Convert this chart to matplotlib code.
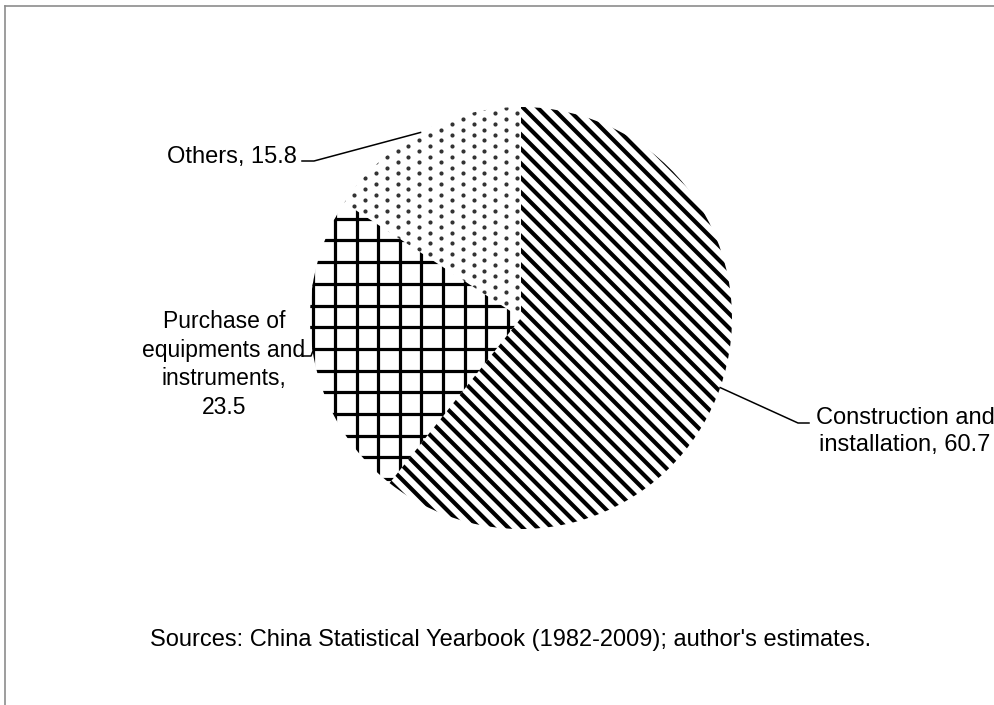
import numpy as np
import matplotlib
matplotlib.use('Agg')
import matplotlib.pyplot as plt
from matplotlib.collections import LineCollection
from matplotlib.lines import Line2D
from matplotlib.transforms import Affine2D

categories = ['Construction and\ninstallation', 'Purchase of\nequipments and\ninstruments,', 'Others']
shares = [60.7, 23.5, 15.8]
source_note = "Sources: China Statistical Yearbook (1982-2009); author's estimates."

W, H = 994, 705
CX, CY, R = 521, 318, 211      # pie centre / radius in pixels

plt.rcParams['font.family'] = ['Liberation Sans', 'DejaVu Sans']

fig = plt.figure(figsize=(W / 100, H / 100), dpi=100)
ax = fig.add_axes([0, 0, 1, 1])
wedges, _ = ax.pie(shares, startangle=90, counterclock=False,
                   colors=['white'] * 3, wedgeprops=dict(linewidth=0))
ax.set_aspect('auto')
ax.set_xlim(-CX / R, (W - CX) / R)
ax.set_ylim((CY - H) / R, CY / R)
ax.axis('off')

# pixel coords with y pointing down
pix = Affine2D().scale(1, -1).translate(0, H)

# hatch for construction: bold downward diagonals
step = 14.5
segs = []
for c in np.arange(343 - step * 80, W + step, step):
    segs.append([(c, 0), (c + H, H)])
lc = LineCollection(segs, colors='black', linewidths=3.0, transform=pix)
lc.set_clip_path(wedges[0])
ax.add_collection(lc)

# hatch for purchase: square grid
segs = []
for x in np.arange(335 - 21.6 * 20, W, 21.6):
    segs.append([(x, 0), (x, H)])
for y in np.arange(305.5 - 21.7 * 20, H, 21.7):
    segs.append([(0, y), (W, y)])
lc = LineCollection(segs, colors='black', linewidths=2.3, transform=pix)
lc.set_clip_path(wedges[1])
ax.add_collection(lc)

# hatch for others: staggered dots
xs, ys = [], []
for i, y in enumerate(np.arange(70, 340, 5.42)):
    off = 0 if i % 2 == 0 else 10.85
    for x in np.arange(300 + off, 540, 21.7):
        xs.append(x)
        ys.append(y)
dots, = ax.plot(xs, ys, 'o', ms=3.0, color='#333333', mec='none', transform=pix)
dots.set_clip_path(wedges[2])

# leader lines from the middle of each slice
elbows = [[(798, 423), (809, 423)],
          [(311, 356), (302, 356)],
          [(314, 161), (302, 161)]]
for w, pts in zip(wedges, elbows):
    th = np.deg2rad((w.theta1 + w.theta2) / 2)
    rim = (CX + R * np.cos(th), CY - R * np.sin(th))
    px = [rim[0]] + [p[0] for p in pts]
    py = [rim[1]] + [p[1] for p in pts]
    ax.plot(px, py, color='black', lw=1.1, transform=pix, clip_on=False)

fs = 17
ax.text(905, 451, categories[0] + ', ' + f'{shares[0]:.1f}', transform=pix,
        ha='center', va='baseline', fontsize=fs, linespacing=1.31, multialignment='center')
ax.text(224, 414, categories[1] + '\n' + f'{shares[1]:.1f}', transform=pix,
        ha='center', va='baseline', fontsize=16.5, linespacing=1.31, multialignment='center')
ax.text(297, 163, categories[2] + ', ' + f'{shares[2]:.1f}', transform=pix,
        ha='right', va='baseline', fontsize=fs)
ax.text(150, 646, source_note, transform=pix, ha='left', va='baseline', fontsize=fs)

# chart area border
fig.add_artist(Line2D([5, W + 10], [5.5, 5.5], color='#8c8c8c', lw=1.2, transform=pix))
fig.add_artist(Line2D([5, 5], [5.5, H + 10], color='#8c8c8c', lw=1.2, transform=pix))

fig.savefig('out.png', dpi=100)
